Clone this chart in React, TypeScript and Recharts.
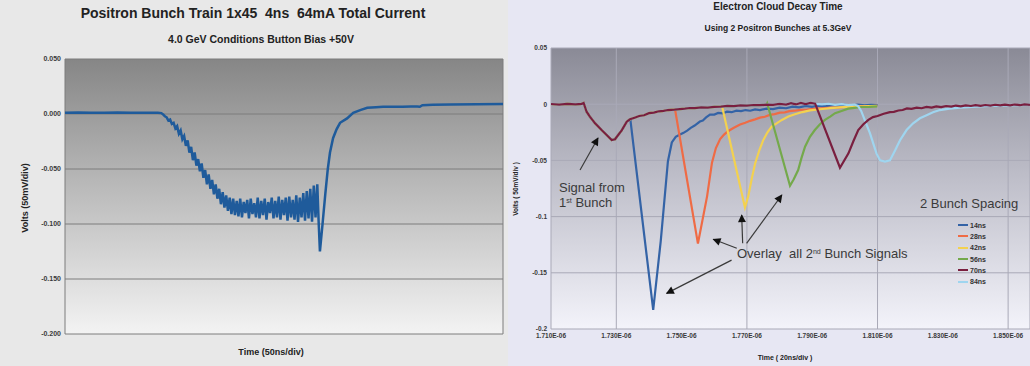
import React from 'react';
import { LineChart, Line, XAxis, YAxis, CartesianGrid, ReferenceLine, Legend } from 'recharts';

type Pt = [number, number];

const FONT = "'Liberation Sans', Arial, Helvetica, sans-serif";

// ---------- Positron bunch train (time in ns, volts) ----------
const trainTrace: Pt[] = [
  [0, 0.0012], [15, 0.0013], [30, 0.0011], [45, 0.0012], [60, 0.0013], [75, 0.0011], [90, 0.0012], [100, 0.0012], [106, 0.0011], [110, 0.0008],
  [112, -0.0004], [114, -0.002], [116, -0.003], [118, -0.006], [120, -0.005], [122, -0.009], [124, -0.008], [126, -0.013], [128, -0.011], [130, -0.018],
  [132, -0.015], [134, -0.023], [136, -0.02], [138, -0.029], [140, -0.024], [142, -0.035], [144, -0.03], [146, -0.042], [148, -0.035], [150, -0.047],
  [152, -0.041], [154, -0.052], [156, -0.045], [158, -0.058], [160, -0.051], [162, -0.064], [164, -0.055], [166, -0.068], [168, -0.06], [170, -0.073],
  [172, -0.064], [174, -0.077], [176, -0.068], [178, -0.082], [180, -0.071], [182, -0.085], [184, -0.074], [186, -0.088], [188, -0.076], [190, -0.091],
  [192, -0.077], [194, -0.092], [196, -0.079], [198, -0.093], [200, -0.077], [202, -0.094], [204, -0.08], [206, -0.09], [208, -0.078], [210, -0.095],
  [212, -0.077], [214, -0.091], [216, -0.081], [218, -0.094], [220, -0.076], [222, -0.095], [224, -0.079], [226, -0.092], [228, -0.077], [230, -0.096],
  [232, -0.08], [234, -0.09], [236, -0.076], [238, -0.095], [240, -0.079], [242, -0.094], [244, -0.075], [246, -0.096], [248, -0.078], [250, -0.092],
  [252, -0.076], [254, -0.097], [256, -0.075], [258, -0.094], [260, -0.078], [262, -0.096], [264, -0.074], [266, -0.098], [268, -0.076], [270, -0.094],
  [272, -0.072], [274, -0.097], [276, -0.07], [278, -0.095], [280, -0.068], [282, -0.098], [284, -0.065], [286, -0.094], [288, -0.064], [289.5, -0.097],
  [291, -0.125], [294, -0.1], [297, -0.074], [300, -0.05], [302.5, -0.035], [306, -0.022], [310, -0.014], [314, -0.008], [322, -0.004], [329, 0.001],
  [337, 0.0035], [345, 0.0056], [355, 0.0061], [363, 0.0065], [375, 0.0066], [385, 0.0067], [395, 0.0068], [402, 0.0068], [405, 0.0066], [408, 0.008],
  [420, 0.0083], [440, 0.0087], [470, 0.0089], [500, 0.009],
];
const trainTimeTicks = [0, 50, 100, 150, 200, 250, 300, 350, 400, 450, 500];
const trainVoltTicks = [-0.2, -0.15, -0.1, -0.05, 0, 0.05];

// ---------- Electron cloud decay (time in ns, volts) ----------
const spacingLabels = ['14ns', '28ns', '42ns', '56ns', '70ns', '84ns'];
const spacingColors = ['#3463a6', '#ef6b45', '#f3d14f', '#74a94b', '#7a1f3f', '#9fd5ef'];

// first bunch, common to every trace
const firstBunch: Pt[] = [
  [1710, 0.0002], [1712.5, -0.0004], [1715, 0.0003], [1717.5, -0.0002], [1719.4, 0.0003], [1720.0, 0.0011],
  [1720.9, -0.0067], [1721.9, -0.0111], [1723.5, -0.017], [1725.5, -0.023], [1727.6, -0.0289], [1728.6, -0.0319],
  [1729.6, -0.0312], [1731.7, -0.023], [1733.2, -0.0156], [1734.2, -0.0134],
];
// slow recovery after the first bunch, until the second bunch arrives
const firstTail: Pt[] = [
  [1735.6, -0.012], [1737, -0.0105], [1738.5, -0.0098], [1740, -0.008], [1741.5, -0.0075], [1743, -0.0063], [1744.5, -0.006],
  [1745.8, -0.0052], [1747.8, -0.0048], [1749.5, -0.0043], [1751, -0.004], [1752.5, -0.0034], [1754, -0.0035], [1756, -0.0029],
  [1758, -0.003], [1760, -0.0023], [1762, -0.0021], [1764, -0.0015], [1766, -0.0017], [1768, -0.0011], [1770, -0.0012],
  [1772, -0.0007], [1774, -0.0009], [1776, -0.0004], [1778, -0.0006], [1780, 0.0002], [1782, -0.0003], [1783.5, 0.001],
  [1785, -0.0002], [1786.5, 0.0012], [1788, 0.0001], [1789.5, 0.0011], [1791, 0.0003], [1793, -0.0002], [1795, 0.0004],
  [1797, -0.0006], [1799, 0.0001], [1801, -0.0008], [1803, -0.0003], [1804.5, -0.0009],
];
const second14: Pt[] = [
  [1734.3, -0.0136], [1741.3, -0.183], [1743.6, -0.122], [1745.8, -0.051], [1747, -0.034], [1748.2, -0.029], [1749.5, -0.027],
  [1750.6, -0.0255], [1751.7, -0.0235], [1752.8, -0.021], [1754, -0.019], [1755.6, -0.0154], [1756.5, -0.0145], [1757.5, -0.0118],
  [1758.7, -0.0093], [1760, -0.0092], [1761.2, -0.0078], [1762.5, -0.0082], [1763.9, -0.0066], [1765.3, -0.0071], [1766.8, -0.0058],
  [1768.2, -0.0062], [1769.6, -0.0052], [1771, -0.0058], [1772.5, -0.0046], [1774, -0.0052], [1776, -0.004], [1778, -0.0044],
  [1780, -0.003], [1782, -0.0036], [1784, -0.0022], [1786, -0.0028], [1788, -0.0016], [1790, -0.0024], [1792, -0.0012],
  [1794, -0.0019], [1796, -0.0008], [1798, -0.0016], [1800, -0.0006], [1802, -0.0013], [1804, -0.0004], [1806, -0.0011],
  [1808, -0.0005], [1810, -0.0009],
];
const second28: Pt[] = [
  [1748, -0.0048], [1755, -0.124], [1756.6, -0.1], [1757.8, -0.082], [1759.3, -0.052], [1760.5, -0.039], [1761.8, -0.031],
  [1763, -0.027], [1764.2, -0.024], [1766, -0.021], [1767.9, -0.018], [1769.5, -0.0165], [1771, -0.0148], [1772.5, -0.0135],
  [1774, -0.012], [1775.5, -0.0112], [1777, -0.0095], [1778.5, -0.0088], [1780.1, -0.0075], [1781.6, -0.0072], [1783, -0.0062],
  [1784.6, -0.0058], [1786.3, -0.005], [1788.5, -0.0047], [1791, -0.004], [1793, -0.0036], [1795.5, -0.003], [1798, -0.0028],
  [1800, -0.0024], [1802.3, -0.0022], [1804.6, -0.0018], [1807, -0.0019], [1809.9, -0.0015],
];
const second42: Pt[] = [
  [1762.4, -0.002], [1769.4, -0.0918], [1770.4, -0.082], [1771.5, -0.066], [1772.5, -0.053], [1773.8, -0.041], [1775, -0.032],
  [1776.3, -0.025], [1777.6, -0.02], [1779.1, -0.017], [1780.7, -0.014], [1782.7, -0.011], [1784.7, -0.009], [1787, -0.007],
  [1789.3, -0.0055], [1792.4, -0.0045], [1795.5, -0.0035], [1798.5, -0.0028], [1801.6, -0.0022], [1805.5, -0.0019], [1809.9, -0.0015],
];
const second56: Pt[] = [
  [1776.2, 0.0008], [1783.2, -0.0725], [1784.3, -0.067], [1785.7, -0.0586], [1786.7, -0.048], [1787.8, -0.0378], [1789.3, -0.029],
  [1790.8, -0.023], [1792.3, -0.018], [1793.9, -0.014], [1795.5, -0.011], [1797, -0.008], [1799, -0.006], [1801, -0.004],
  [1803, -0.0032], [1805, -0.0025], [1807.5, -0.0024], [1809.9, -0.002],
];
const second70: Pt[] = [
  [1790.9, 0.0005], [1798.5, -0.0565], [1801.1, -0.0437], [1802.6, -0.033], [1804.1, -0.023], [1805.6, -0.018], [1807.2, -0.014],
  [1808.6, -0.0115], [1810, -0.0105], [1811.9, -0.0085], [1813.8, -0.007], [1815, -0.0068], [1816.4, -0.0056], [1817.7, -0.0052],
  [1819, -0.0038], [1820.4, -0.0042], [1822, -0.003], [1823.5, -0.0036], [1825, -0.0024], [1826.6, -0.003], [1828, -0.0019],
  [1829.5, -0.0026], [1831, -0.0016], [1832.6, -0.0022], [1834, -0.0012], [1835.5, -0.0019], [1837, -0.001], [1838.6, -0.0016],
  [1840, -0.0008], [1841.6, -0.0014], [1843, -0.0007], [1844.6, -0.0012], [1846, -0.0005], [1847.6, -0.0011], [1849, -0.0004],
  [1850.6, -0.001], [1852, -0.0003], [1853.6, -0.0009], [1855, -0.0002], [1856.7, -0.0006],
];
const second84: Pt[] = [
  [1804.0, -0.0015], [1805.0, -0.006], [1807.7, -0.026], [1809.7, -0.044], [1810.8, -0.05], [1812.3, -0.051], [1813.8, -0.05],
  [1815.4, -0.041], [1816.9, -0.032], [1818.9, -0.023], [1820.9, -0.017], [1823, -0.0125], [1825.2, -0.0096], [1827, -0.0072],
  [1829.1, -0.0052], [1832, -0.004], [1835.3, -0.003], [1840, -0.0022], [1844.5, -0.0015], [1850, -0.001], [1856.7, -0.0006],
];
const secondBunches = [second14, second28, second42, second56, second70, second84];

const decayTimeTicks = [1710, 1730, 1750, 1770, 1790, 1810, 1830, 1850];
const decayVoltTicks = [-0.2, -0.15, -0.1, -0.05, 0, 0.05];
// traces are stacked with 84ns beneath 70ns
const drawOrder = [0, 1, 2, 3, 5, 4];

// annotation arrows (tail -> head, in data units)
const noteArrows: { from: Pt; to: Pt }[] = [
  { from: [1718.9, -0.0586], to: [1724.4, -0.0301] },
  { from: [1766.9, -0.1282], to: [1759.7, -0.1202] },
  { from: [1768.7, -0.1238], to: [1768.4, -0.0986] },
  { from: [1769.9, -0.1238], to: [1780.7, -0.0808] },
  { from: [1765.3, -0.1387], to: [1745.4, -0.1683] },
];

const toRows = (pts: Pt[]) => pts.map(([t, v]) => ({ t, v }));
const trainRows = toRows(trainTrace);
const decaySeries = spacingLabels.map((name, i) => {
  const own = secondBunches[i];
  const start = own[0][0];
  const lead = [...firstBunch, ...firstTail.filter(([t]) => t < start)];
  return { name, color: spacingColors[i], rows: toRows([...lead, ...own]) };
});

type CaptionProps = {
  x: number; y: number; size: number; bold?: boolean; rotate?: boolean; color?: string; align?: 'center' | 'left';
  children: React.ReactNode;
};
const Caption = ({ x, y, size, bold = true, rotate = false, color = '#222', align = 'center', children }: CaptionProps) => (
  <div
    style={{
      position: 'absolute',
      left: x,
      top: y,
      transform: `${align === 'center' ? 'translate(-50%, -50%)' : 'translate(0, -50%)'}${rotate ? ' rotate(-90deg)' : ''}`,
      whiteSpace: 'pre',
      fontFamily: FONT,
      fontSize: size,
      fontWeight: bold ? 'bold' : 'normal',
      color,
      lineHeight: 1,
    }}
  >
    {children}
  </div>
);

const Sup = ({ children }: { children: React.ReactNode }) => (
  <span style={{ fontSize: '0.55em', position: 'relative', top: '-0.6em' }}>{children}</span>
);

const renderSpacingLegend = (props: any) => {
  const items = [...(props.payload ?? [])].sort(
    (a: any, b: any) => spacingLabels.indexOf(a.value) - spacingLabels.indexOf(b.value)
  );
  return (
    <div style={{ display: 'flex', flexDirection: 'column' }}>
      {items.map((item: any) => (
        <div key={item.value} style={{ display: 'flex', alignItems: 'center', height: 11.3 }}>
          <span style={{ display: 'inline-block', width: 10, height: 2, background: item.color, marginRight: 2 }} />
          <span style={{ fontFamily: FONT, fontSize: 7, fontWeight: 'bold', color: '#333', lineHeight: 1 }}>{item.value}</span>
        </div>
      ))}
    </div>
  );
};

const leftTickStyle = { fontSize: 7, fontWeight: 'bold', fill: '#3a3a3a', fontFamily: FONT };
const rightTickStyle = { fontSize: 6.5, fontWeight: 'bold', fill: '#3a3a3a', fontFamily: FONT };

export default function App() {
  return (
    <div style={{ position: 'absolute', left: 0, top: 0, width: 1030, height: 366, overflow: 'hidden' }}>
      {/* Left: positron bunch train */}
      <div style={{ position: 'absolute', left: 0, top: 0, width: 508, height: 366, background: '#e8e8e8' }}>
        <LineChart width={508} height={366} margin={{ top: 59, right: 5, bottom: 30, left: 0 }}>
          <defs>
            <linearGradient id="trainBg" x1="0" y1="0" x2="0" y2="1">
              <stop offset="0" stopColor="#868686" />
              <stop offset="0.45" stopColor="#b8b8b8" />
              <stop offset="1" stopColor="#f3f3f3" />
            </linearGradient>
          </defs>
          <CartesianGrid fill="url(#trainBg)" fillOpacity={1} stroke="#7d7d7d" strokeWidth={1} />
          <XAxis
            type="number"
            dataKey="t"
            domain={[0, 500]}
            ticks={trainTimeTicks}
            tick={false}
            tickLine={false}
            axisLine={false}
            height={2}
          />
          <YAxis
            type="number"
            domain={[-0.2, 0.05]}
            ticks={trainVoltTicks}
            width={65}
            tickFormatter={(v: number) => v.toFixed(3)}
            tick={leftTickStyle}
            tickLine={false}
            axisLine={false}
            tickSize={0}
            tickMargin={4}
          />
          <Line
            data={trainRows}
            dataKey="v"
            type="linear"
            stroke="#1f5b9b"
            strokeWidth={2.5}
            dot={false}
            isAnimationActive={false}
          />
        </LineChart>
        <Caption x={253} y={13} size={14}>Positron Bunch Train 1x45  4ns  64mA Total Current</Caption>
        <Caption x={261} y={39} size={10.5}>4.0 GeV Conditions Button Bias +50V</Caption>
        <Caption x={271} y={352} size={9}>Time (50ns/div)</Caption>
        <Caption x={25} y={198} size={9} rotate>Volts (50mV/div)</Caption>
      </div>

      {/* Right: electron cloud decay */}
      <div style={{ position: 'absolute', left: 508, top: 0, width: 522, height: 366, background: '#e7e7f3' }}>
        <LineChart width={522} height={366} margin={{ top: 48, right: 0, bottom: 25, left: 0 }}>
          <defs>
            <linearGradient id="decayBg" x1="0" y1="0" x2="0" y2="1">
              <stop offset="0" stopColor="#8a8a96" />
              <stop offset="0.45" stopColor="#bdbdc8" />
              <stop offset="1" stopColor="#f3f3fa" />
            </linearGradient>
            <marker id="noteArrow" viewBox="0 0 10 10" refX="9" refY="5" markerWidth="10" markerHeight="8"
              markerUnits="userSpaceOnUse" orient="auto">
              <path d="M0,0 L10,5 L0,10 z" fill="#111" />
            </marker>
          </defs>
          <CartesianGrid fill="url(#decayBg)" fillOpacity={1} stroke="#a9a9b7" strokeWidth={1} />
          <XAxis
            type="number"
            dataKey="t"
            domain={[1710, 1856.7]}
            allowDataOverflow
            ticks={decayTimeTicks}
            tickFormatter={(t: number) => `${(t / 1000).toFixed(3)}E-06`}
            tick={rightTickStyle}
            tickLine={false}
            axisLine={false}
            tickSize={0}
            tickMargin={4}
            height={12}
          />
          <YAxis
            type="number"
            domain={[-0.2, 0.05]}
            ticks={decayVoltTicks}
            width={43}
            tickFormatter={(v: number) => (v === 0 ? '0' : String(v))}
            tick={rightTickStyle}
            tickLine={false}
            axisLine={false}
            tickSize={0}
            tickMargin={4}
          />
          {drawOrder.map((i) => {
            const s = decaySeries[i];
            return (
              <Line
                key={s.name}
                data={s.rows}
                dataKey="v"
                name={s.name}
                type="linear"
                stroke={s.color}
                strokeWidth={2.2}
                dot={false}
                isAnimationActive={false}
              />
            );
          })}
          {noteArrows.map((a, i) => (
            <ReferenceLine
              key={i}
              segment={[{ x: a.from[0], y: a.from[1] }, { x: a.to[0], y: a.to[1] }]}
              stroke="#3a3a3a"
              strokeWidth={1.2}
              markerEnd="url(#noteArrow)"
            />
          ))}
          <Legend
            layout="vertical"
            align="center"
            verticalAlign="middle"
            content={renderSpacingLegend}
            wrapperStyle={{ left: 450, top: 219.5, width: 50 }}
          />
        </LineChart>
        <Caption x={270} y={6.5} size={10}>Electron Cloud Decay Time</Caption>
        <Caption x={270} y={28} size={8.5}>Using 2 Positron Bunches at 5.3GeV</Caption>
        <Caption x={277} y={357} size={7}>Time ( 20ns/div )</Caption>
        <Caption x={8} y={189} size={6.5} rotate>Volts ( 50mV/div )</Caption>
        <Caption x={51} y={187} size={13} bold={false} color="#3a3a3a" align="left">Signal from</Caption>
        <Caption x={51} y={203} size={13} bold={false} color="#3a3a3a" align="left">1<Sup>st</Sup> Bunch</Caption>
        <Caption x={229} y={254} size={13} bold={false} color="#3a3a3a" align="left">Overlay  all 2<Sup>nd</Sup> Bunch Signals</Caption>
        <Caption x={412} y={203} size={13} bold={false} color="#3a3a3a" align="left">2 Bunch Spacing</Caption>
      </div>
    </div>
  );
}
